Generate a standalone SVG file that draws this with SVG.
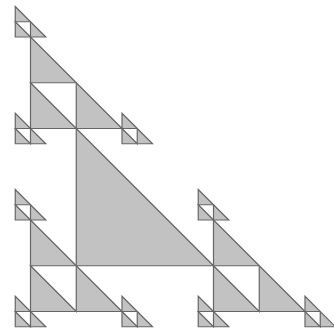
<svg xmlns="http://www.w3.org/2000/svg" width="334" height="330" viewBox="0 0 334 330">
<style>
.g{fill:#c2c2c2;stroke:#666666;stroke-width:1.2;stroke-linejoin:miter}
.w{fill:#ffffff;stroke:#666666;stroke-width:1.2}
</style>
<rect width="334" height="330" fill="#ffffff"/>
<g id="center">
<polygon class="g" points="76.25,128.5 76.25,265.75 213.5,265.75"/>
</g>
<g id="cluster-top">
<polygon class="g" points="30.5,37 30.5,128.5 122,128.5"/>
<polygon class="w" points="30.5,82.75 76.25,82.75 76.25,128.5"/>
</g>
<g id="cluster-bottom-left">
<polygon class="g" points="30.5,220 30.5,311.5 122,311.5"/>
<polygon class="w" points="30.5,265.75 76.25,265.75 76.25,311.5"/>
</g>
<g id="cluster-bottom-right">
<polygon class="g" points="213.5,220 213.5,311.5 305,311.5"/>
<polygon class="w" points="213.5,265.75 259.25,265.75 259.25,311.5"/>
</g>
<g id="small-1">
<polygon class="g" points="15.25,6.5 15.25,37 45.75,37"/>
<polygon class="w" points="15.25,21.75 30.5,21.75 30.5,37"/>
</g>
<g id="small-2">
<polygon class="g" points="15.25,113.25 15.25,143.75 45.75,143.75"/>
<polygon class="w" points="15.25,128.5 30.5,128.5 30.5,143.75"/>
</g>
<g id="small-3">
<polygon class="g" points="122,113.25 122,143.75 152.5,143.75"/>
<polygon class="w" points="122,128.5 137.25,128.5 137.25,143.75"/>
</g>
<g id="small-4">
<polygon class="g" points="15.25,189.5 15.25,220 45.75,220"/>
<polygon class="w" points="15.25,204.75 30.5,204.75 30.5,220"/>
</g>
<g id="small-5">
<polygon class="g" points="15.25,296.25 15.25,326.75 45.75,326.75"/>
<polygon class="w" points="15.25,311.5 30.5,311.5 30.5,326.75"/>
</g>
<g id="small-6">
<polygon class="g" points="122,296.25 122,326.75 152.5,326.75"/>
<polygon class="w" points="122,311.5 137.25,311.5 137.25,326.75"/>
</g>
<g id="small-7">
<polygon class="g" points="198.25,189.5 198.25,220 228.75,220"/>
<polygon class="w" points="198.25,204.75 213.5,204.75 213.5,220"/>
</g>
<g id="small-8">
<polygon class="g" points="198.25,296.25 198.25,326.75 228.75,326.75"/>
<polygon class="w" points="198.25,311.5 213.5,311.5 213.5,326.75"/>
</g>
<g id="small-9">
<polygon class="g" points="305,296.25 305,326.75 335.5,326.75"/>
<polygon class="w" points="305,311.5 320.25,311.5 320.25,326.75"/>
</g>
</svg>
